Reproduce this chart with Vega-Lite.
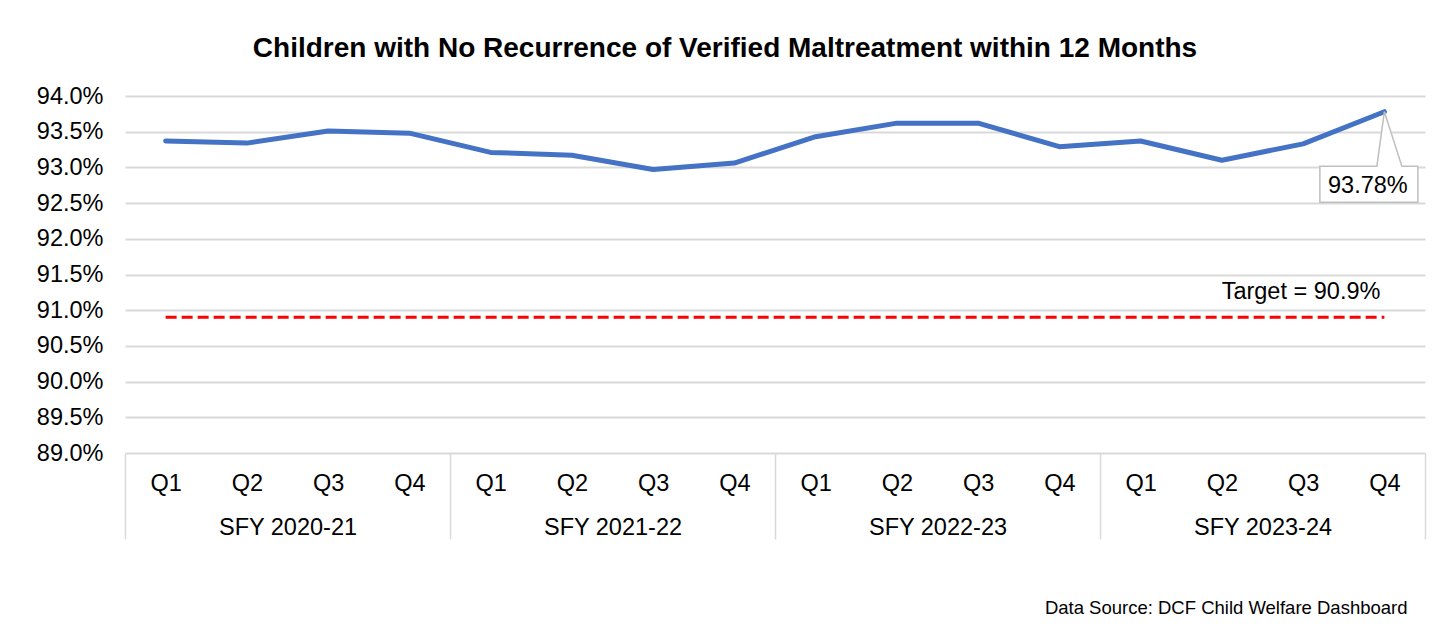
{
  "$schema": "https://vega.github.io/schema/vega-lite/v6.json",
  "width": 1300,
  "height": 357,
  "autosize": "none",
  "padding": {"left": 125, "top": 96, "right": 24, "bottom": 182},
  "background": "white",
  "config": {
    "font": "Liberation Sans",
    "view": {"stroke": null},
    "axisY": {
      "grid": true,
      "gridColor": "#d9d9d9",
      "gridWidth": 2,
      "domain": false,
      "ticks": false,
      "labelPadding": 22,
      "labelFontSize": 23.5,
      "labelColor": "#000000",
      "labelOverlap": false,
      "title": null
    }
  },
  "title": {
    "text": "Children with No Recurrence of Verified Maltreatment within 12 Months",
    "fontSize": 28,
    "fontWeight": "bold",
    "color": "#000000",
    "anchor": "middle",
    "dx": -50,
    "offset": 21
  },
  "datasets": {
    "main": [
      {"year": "SFY 2020-21", "quarter": "Q1", "key": "SFY 2020-21|Q1", "rate": 93.37, "target": 90.9},
      {"year": "SFY 2020-21", "quarter": "Q2", "key": "SFY 2020-21|Q2", "rate": 93.34, "target": 90.9},
      {"year": "SFY 2020-21", "quarter": "Q3", "key": "SFY 2020-21|Q3", "rate": 93.51, "target": 90.9},
      {"year": "SFY 2020-21", "quarter": "Q4", "key": "SFY 2020-21|Q4", "rate": 93.48, "target": 90.9},
      {"year": "SFY 2021-22", "quarter": "Q1", "key": "SFY 2021-22|Q1", "rate": 93.21, "target": 90.9},
      {"year": "SFY 2021-22", "quarter": "Q2", "key": "SFY 2021-22|Q2", "rate": 93.17, "target": 90.9},
      {"year": "SFY 2021-22", "quarter": "Q3", "key": "SFY 2021-22|Q3", "rate": 92.97, "target": 90.9},
      {"year": "SFY 2021-22", "quarter": "Q4", "key": "SFY 2021-22|Q4", "rate": 93.06, "target": 90.9},
      {"year": "SFY 2022-23", "quarter": "Q1", "key": "SFY 2022-23|Q1", "rate": 93.43, "target": 90.9},
      {"year": "SFY 2022-23", "quarter": "Q2", "key": "SFY 2022-23|Q2", "rate": 93.62, "target": 90.9},
      {"year": "SFY 2022-23", "quarter": "Q3", "key": "SFY 2022-23|Q3", "rate": 93.62, "target": 90.9},
      {"year": "SFY 2022-23", "quarter": "Q4", "key": "SFY 2022-23|Q4", "rate": 93.29, "target": 90.9},
      {"year": "SFY 2023-24", "quarter": "Q1", "key": "SFY 2023-24|Q1", "rate": 93.37, "target": 90.9},
      {"year": "SFY 2023-24", "quarter": "Q2", "key": "SFY 2023-24|Q2", "rate": 93.10, "target": 90.9},
      {"year": "SFY 2023-24", "quarter": "Q3", "key": "SFY 2023-24|Q3", "rate": 93.33, "target": 90.9},
      {"year": "SFY 2023-24", "quarter": "Q4", "key": "SFY 2023-24|Q4", "rate": 93.78, "target": 90.9}
    ],
    "years": [
      {"year": "SFY 2020-21"},
      {"year": "SFY 2021-22"},
      {"year": "SFY 2022-23"},
      {"year": "SFY 2023-24"}
    ]
  },
  "layer": [
    {
      "data": {"name": "main"},
      "encoding": {
        "x": {
          "field": "key",
          "type": "nominal",
          "sort": null,
          "scale": {"type": "point", "padding": 0.5},
          "axis": {
            "orient": "bottom",
            "labelExpr": "split(datum.value, '|')[1]",
            "ticks": false,
            "domain": false,
            "grid": false,
            "labelAngle": 0,
            "labelPadding": 18,
            "labelFontSize": 23.5,
            "labelColor": "#000000",
            "title": null
          }
        }
      },
      "layer": [
        {
          "mark": {"type": "line", "color": "#FF0000", "strokeWidth": 3, "strokeDash": [11, 5]},
          "encoding": {
            "y": {
              "field": "target",
              "type": "quantitative",
              "scale": {"domain": [89, 94], "zero": false, "nice": false},
              "axis": {
                "values": [89, 89.5, 90, 90.5, 91, 91.5, 92, 92.5, 93, 93.5, 94],
                "labelExpr": "format(datum.value, '.1f') + '%'",
                "title": null
              }
            }
          }
        },
        {
          "mark": {"type": "line", "color": "#4472C4", "strokeWidth": 5, "strokeJoin": "round", "strokeCap": "round"},
          "encoding": {
            "y": {
              "field": "rate",
              "type": "quantitative",
              "axis": {
                "values": [89, 89.5, 90, 90.5, 91, 91.5, 92, 92.5, 93, 93.5, 94],
                "labelExpr": "format(datum.value, '.1f') + '%'",
                "title": null
              }
            }
          }
        },
        {
          "transform": [{"filter": "datum.key === 'SFY 2023-24|Q4'"}],
          "mark": {
            "type": "point",
            "shape": "M -0.645 0.545 L -0.075 0.545 L 0 0 L 0.175 0.545 L 0.335 0.545 L 0.335 0.905 L -0.645 0.905 Z",
            "size": 40000,
            "filled": true,
            "fill": "#ffffff",
            "stroke": "#bfbfbf",
            "strokeWidth": 1.5,
            "opacity": 1
          },
          "encoding": {
            "y": {
              "field": "rate",
              "type": "quantitative",
              "axis": {
                "values": [89, 89.5, 90, 90.5, 91, 91.5, 92, 92.5, 93, 93.5, 94],
                "labelExpr": "format(datum.value, '.1f') + '%'",
                "title": null
              }
            }
          }
        },
        {
          "transform": [
            {"filter": "datum.key === 'SFY 2023-24|Q4'"},
            {"calculate": "format(datum.rate, '.2f') + '%'", "as": "label"}
          ],
          "mark": {"type": "text", "dx": -16.5, "dy": 74.7, "fontSize": 23.5, "align": "center", "baseline": "middle", "color": "#000000"},
          "encoding": {
            "y": {
              "field": "rate",
              "type": "quantitative",
              "axis": {
                "values": [89, 89.5, 90, 90.5, 91, 91.5, 92, 92.5, 93, 93.5, 94],
                "labelExpr": "format(datum.value, '.1f') + '%'",
                "title": null
              }
            },
            "text": {"field": "label"}
          }
        },
        {
          "transform": [
            {"filter": "datum.key === 'SFY 2023-24|Q4'"},
            {"calculate": "'Target = ' + format(datum.target, '.1f') + '%'", "as": "tlabel"}
          ],
          "mark": {"type": "text", "dx": -4, "dy": -25, "fontSize": 23.5, "align": "right", "baseline": "middle", "color": "#000000"},
          "encoding": {
            "y": {
              "field": "target",
              "type": "quantitative",
              "axis": {
                "values": [89, 89.5, 90, 90.5, 91, 91.5, 92, 92.5, 93, 93.5, 94],
                "labelExpr": "format(datum.value, '.1f') + '%'",
                "title": null
              }
            },
            "text": {"field": "tlabel"}
          }
        }
      ]
    },
    {
      "data": {"name": "years"},
      "mark": {"type": "point", "opacity": 0},
      "encoding": {
        "x": {
          "field": "year",
          "type": "nominal",
          "sort": null,
          "scale": {"type": "band", "paddingInner": 0, "paddingOuter": 0},
          "axis": {
            "orient": "bottom",
            "title": "Data Source: DCF Child Welfare Dashboard",
            "tickBand": "extent",
            "tickExtra": true,
            "tickSize": 86,
            "tickColor": "#d9d9d9",
            "tickWidth": 1.5,
            "domain": false,
            "grid": false,
            "labelPadding": -23.7,
            "labelFontSize": 23.5,
            "labelColor": "#000000",
            "labelAngle": 0,
            "titleX": 1282,
            "titleY": 154.5,
            "titleAlign": "right",
            "titleAnchor": null,
            "titleBaseline": "middle",
            "titleFontSize": 18.5,
            "titleFontWeight": "normal",
            "titleColor": "#000000"
          }
        }
      }
    }
  ],
  "resolve": {"scale": {"x": "independent"}, "axis": {"x": "independent"}}
}
